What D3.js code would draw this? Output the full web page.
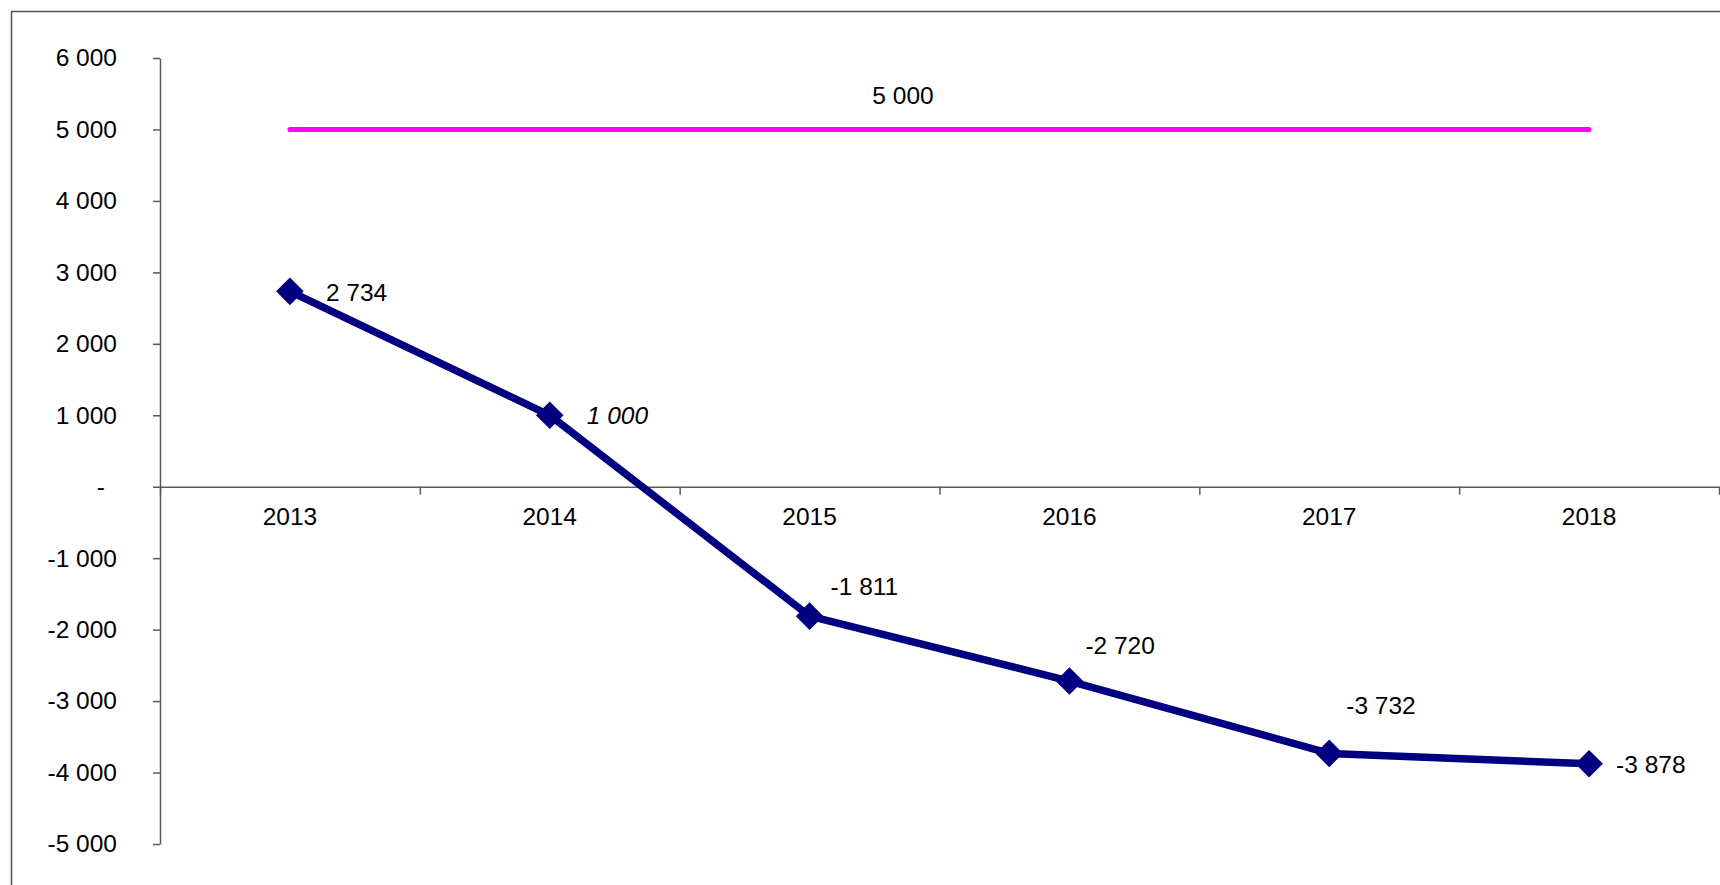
<!DOCTYPE html>
<html>
<head>
<meta charset="utf-8">
<script src="https://cdn.jsdelivr.net/npm/d3@7"></script>
<style>
  html, body { margin: 0; padding: 0; background: #fff; }
  svg { display: block; font-family: "Liberation Sans", Arial, sans-serif; }
</style>
</head>
<body>
<svg id="chart"></svg>
<script>
var years = ['2013','2014','2015','2016','2017','2018'];
var balance = [2734, 1000, -1811, -2720, -3732, -3878];
var target = [5000, 5000, 5000, 5000, 5000, 5000];
var yTicks = [-5000,-4000,-3000,-2000,-1000,0,1000,2000,3000,4000,5000,6000];
// label nudges in px, relative to each point
var labelNudge = [[36,1],[37,0],[21,-30],[16,-36],[17,-48],[27,1]];

var W = 1720, H = 885;
var svg = d3.select("#chart").attr("width", W).attr("height", H);

var ru = d3.formatLocale({decimal: ",", thousands: " ", grouping: [3], currency: ["",""], minus: "-"});
var fmt = ru.format(",d");

// chart frame
svg.append("rect")
    .attr("x", 11.5).attr("y", 11.5)
    .attr("width", 1800).attr("height", 1000)
    .attr("fill", "none").attr("stroke", "#555").attr("stroke-width", 1.5);

var x = d3.scaleBand().domain(years).range([160, 1719]);
var xb = d3.scaleLinear().domain([0, years.length]).range([160, 1719]);
var y = d3.scaleLinear().domain([-5000, 6000]).range([844, 58]);

// y axis
var gy = svg.append("g")
    .attr("transform", "translate(160,0)")
    .call(d3.axisLeft(y).tickValues(yTicks).tickSize(7).tickSizeOuter(0).tickPadding(36)
        .tickFormat(function(d){ return d === 0 ? "-" : fmt(d); }));
gy.selectAll("text").style("font-size", "24.5px").attr("fill", "#000");
gy.selectAll(".tick").filter(function(d){ return d === 0; }).select("text").attr("x", -55);
gy.selectAll("path, line").attr("stroke", "#5a5a5a").attr("stroke-width", 1.5);

// x axis at zero, ticks between categories
var gx = svg.append("g")
    .attr("transform", "translate(0," + y(0) + ")")
    .call(d3.axisBottom(xb).tickValues(d3.range(years.length + 1)).tickSize(8).tickSizeOuter(0).tickFormat(""));
gx.selectAll("path, line").attr("stroke", "#5a5a5a").attr("stroke-width", 1.5);

svg.append("g").selectAll("text")
    .data(years)
    .join("text")
    .attr("x", function(d){ return x(d) + x.bandwidth()/2; })
    .attr("y", y(0) + 30)
    .attr("text-anchor", "middle")
    .attr("dominant-baseline", "central")
    .style("font-size", "24.5px")
    .text(function(d){ return d; });

// target line
var line = d3.line()
    .x(function(d, i){ return x(years[i]) + x.bandwidth()/2; })
    .y(function(d){ return y(d); });

svg.append("path")
    .datum(target)
    .attr("d", line)
    .attr("fill", "none")
    .attr("stroke", "#ff00ff")
    .attr("stroke-width", 5)
    .attr("stroke-linecap", "round");

svg.append("text")
    .attr("x", 903)
    .attr("y", y(target[0]) - 34)
    .attr("text-anchor", "middle")
    .attr("dominant-baseline", "central")
    .style("font-size", "24.5px")
    .text(fmt(target[0]));

// main series
svg.append("path")
    .datum(balance)
    .attr("d", line)
    .attr("fill", "none")
    .attr("stroke", "#000080")
    .attr("stroke-width", 7.5)
    .attr("stroke-linejoin", "round");

svg.selectAll("path.marker")
    .data(balance)
    .join("path")
    .attr("class", "marker")
    .attr("d", d3.symbol(d3.symbolSquare, 380))
    .attr("transform", function(d, i){
        return "translate(" + (x(years[i]) + x.bandwidth()/2) + "," + y(d) + ") rotate(45)";
    })
    .attr("fill", "#000080");

svg.append("g").selectAll("text")
    .data(balance)
    .join("text")
    .attr("x", function(d, i){ return x(years[i]) + x.bandwidth()/2 + labelNudge[i][0]; })
    .attr("y", function(d, i){ return y(d) + labelNudge[i][1]; })
    .attr("dominant-baseline", "central")
    .style("font-size", "24.5px")
    .style("font-style", function(d, i){ return i === 1 ? "italic" : "normal"; })
    .text(function(d){ return fmt(d); });
</script>
</body>
</html>
